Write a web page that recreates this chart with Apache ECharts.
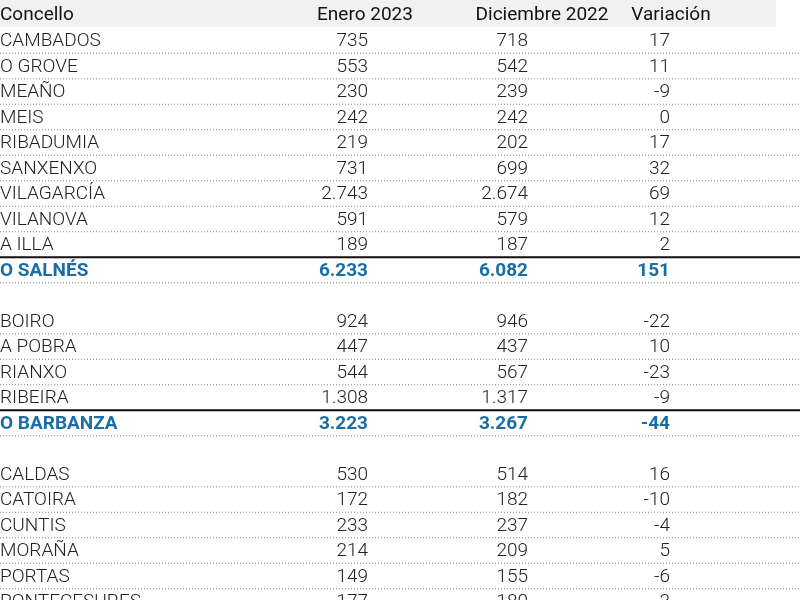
<!DOCTYPE html>
<html lang="es">
<head>
<meta charset="UTF-8">
<title>Concellos</title>
<script src="https://cdn.jsdelivr.net/npm/echarts@6/dist/echarts.min.js"></script>
<style>
  html, body { margin: 0; padding: 0; background: #fff; }
  #main { width: 800px; height: 600px; }
</style>
</head>
<body>
<div id="main"></div>
<script>
    // column headers
    const headers = ['Concello', 'Enero 2023', 'Diciembre 2022', 'Variación'];
    // '' = blank spacer row
    const concellos = ['CAMBADOS', 'O GROVE', 'MEAÑO', 'MEIS', 'RIBADUMIA', 'SANXENXO', 'VILAGARCÍA', 'VILANOVA', 'A ILLA', 'O SALNÉS', '',
        'BOIRO', 'A POBRA', 'RIANXO', 'RIBEIRA', 'O BARBANZA', '',
        'CALDAS', 'CATOIRA', 'CUNTIS', 'MORAÑA', 'PORTAS', 'PONTECESURES'];
    const enero = [735, 553, 230, 242, 219, 731, 2743, 591, 189, 6233, null,
        924, 447, 544, 1308, 3223, null,
        530, 172, 233, 214, 149, 177];
    const diciembre = [718, 542, 239, 242, 202, 699, 2674, 579, 187, 6082, null,
        946, 437, 567, 1317, 3267, null,
        514, 182, 237, 209, 155, 180];
    const variacion = [17, 11, -9, 0, 17, 32, 69, 12, 2, 151, null,
        -22, 10, -23, -9, -44, null,
        16, -10, -4, 5, -6, -3];
    const totals = ['O SALNÉS', 'O BARBANZA'];

    const fmt = v => v == null ? '' : String(v).replace(/\B(?=(\d{3})+(?!\d))/g, '.');

    // row 0 is the header
    const data = [[0, 'header']];
    concellos.forEach((c, i) => {
        let kind = c === '' ? 'blank' : (totals.includes(c) ? 'total' : 'row');
        data.push([i + 1, kind]);
    });

    const myChart = echarts.init(document.getElementById('main'));
    const font = 'Roboto, sans-serif';
    const blue = '#1a6ea6';

    function renderItem(params, api) {
        const idx = api.value(0);
        const kind = data[params.dataIndex][1];
        const y = api.coord([0, idx])[1];
        const half = api.size([0, 1])[1] / 2;
        const xs = [api.coord([0, 0])[0], api.coord([368, 0])[0], api.coord([528, 0])[0], api.coord([670, 0])[0]];
        const right = api.coord([800, 0])[0];
        const children = [];
        if (kind === 'header') {
            children.push({ type: 'rect', shape: { x: 0, y: y - half - 3, width: right - 24, height: half * 2 + 2 }, style: { fill: '#f1f1f1' } });
            const hx = [0, 365, 542, 671];
            headers.forEach((h, k) => {
                children.push({
                    type: 'text', x: hx[k], y: y,
                    style: { text: h, font: '400 19px ' + font, fill: '#111', align: k === 0 ? 'left' : 'center', verticalAlign: 'middle' }
                });
            });
            return { type: 'group', children };
        }
        if (kind === 'blank') return { type: 'group', children };
        const i = idx - 1;
        const isTotal = kind === 'total';
        const cells = [concellos[i], fmt(enero[i]), fmt(diciembre[i]), fmt(variacion[i])];
        cells.forEach((t, k) => {
            children.push({
                type: 'text', x: xs[k], y: y + 1,
                style: {
                    text: t,
                    font: (isTotal ? '700 19px ' : '300 19px ') + font,
                    fill: isTotal ? blue : '#222',
                    align: k === 0 ? 'left' : 'right', verticalAlign: 'middle'
                }
            });
        });
        if (isTotal) {
            children.push({ type: 'line', shape: { x1: 0, y1: y - half, x2: right, y2: y - half }, style: { stroke: '#111', lineWidth: 2 } });
        }
        children.push({ type: 'line', shape: { x1: 0, y1: y + half, x2: right, y2: y + half }, style: { stroke: '#888', lineWidth: 1, lineDash: [1, 2] } });
        return { type: 'group', children };
    }

    const option = {
        animation: false,
        grid: { left: 0, right: 0, top: 0, bottom: 0 },
        xAxis: { type: 'value', min: 0, max: 800, show: false },
        yAxis: { type: 'value', min: -15 / 25.5, max: 585 / 25.5, inverse: true, show: false },
        series: [{
            type: 'custom',
            renderItem: renderItem,
            data: data,
            clip: true
        }]
    };
    myChart.setOption(option);
</script>
</body>
</html>
